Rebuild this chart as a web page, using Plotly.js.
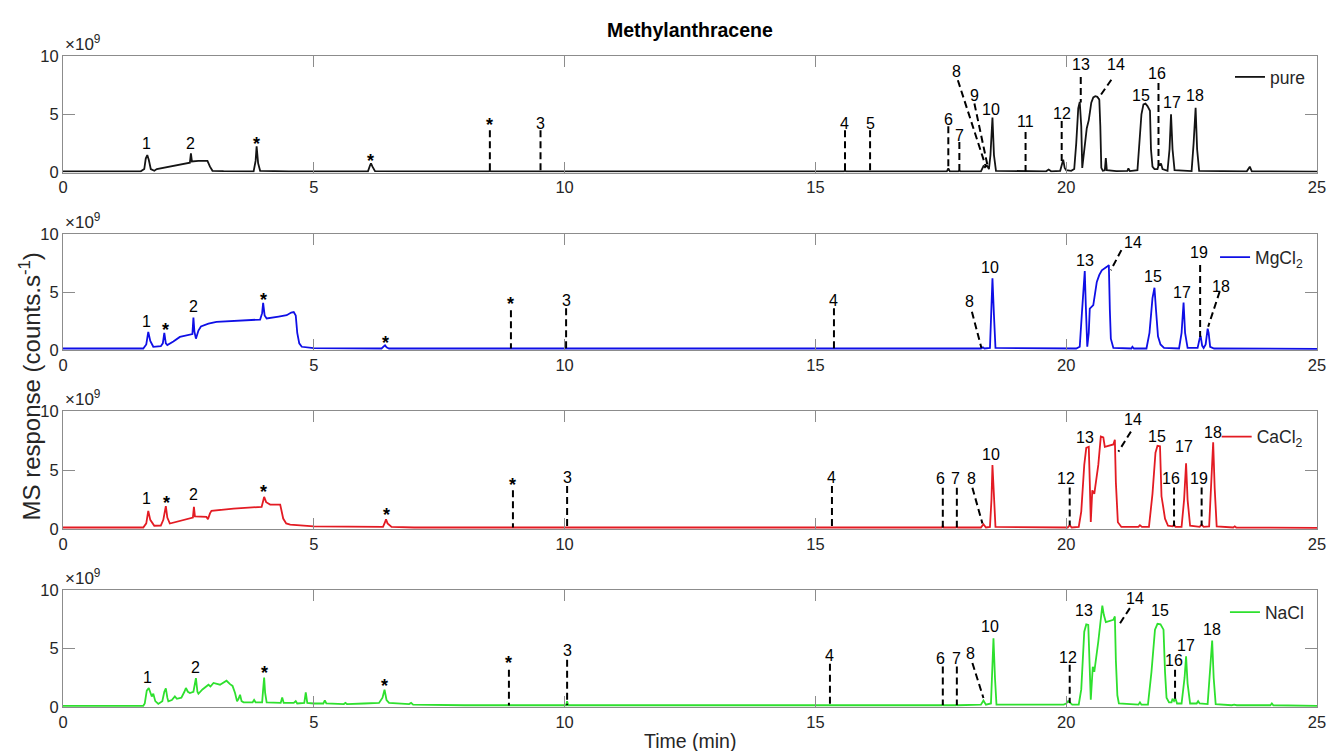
<!DOCTYPE html>
<html>
<head>
<meta charset="utf-8">
<script src="https://cdn.plot.ly/plotly-3.0.1.min.js"></script>
<style>html,body{margin:0;padding:0;background:#fff}#chart{width:1330px;height:751px}</style>
</head>
<body>
<div id="chart"></div>
<script>
// ---------------- data (response in units of 1e9 counts/s, time in min) ----------------
const seriesNames = ['pure', 'MgCl<sub>2</sub>', 'CaCl<sub>2</sub>', 'NaCl'];

const purePoints = [[0,0.1],[1.55,0.1],[1.62,0.3],[1.65,1.2],[1.68,1.5],[1.71,1.1],[1.75,0.3],[1.82,0.15],[1.87,0.3],[2.1,0.5],[2.3,0.65],[2.5,0.8],[2.53,0.85],[2.55,1.65],[2.57,0.95],[2.7,1.0],[2.88,1.0],[2.93,0.5],[2.98,0.15],[3.2,0.12],[3.8,0.1],[3.84,1.0],[3.86,2.25],[3.89,0.8],[3.93,0.15],[4.5,0.1],[6.08,0.1],[6.12,0.6],[6.14,0.78],[6.17,0.5],[6.22,0.12],[8.49,0.1],[8.51,0.15],[8.53,0.1],[9.5,0.1],[9.52,0.15],[9.54,0.1],[11.2,0.1],[11.25,0.15],[11.3,0.1],[15.57,0.1],[15.59,0.18],[15.61,0.1],[17.62,0.1],[17.65,0.35],[17.68,0.1],[17.85,0.1],[17.87,0.18],[17.89,0.1],[18.3,0.1],[18.35,0.55],[18.38,0.45],[18.42,0.6],[18.46,0.3],[18.49,1.5],[18.53,4.72],[18.56,1.5],[18.6,0.15],[19.6,0.1],[19.65,0.25],[19.7,0.1],[19.88,0.15],[19.91,0.6],[19.94,1.1],[19.97,0.4],[20.0,0.2],[20.1,0.15],[20.16,0.3],[20.2,2.5],[20.24,5.5],[20.27,6.05],[20.3,4.0],[20.32,0.4],[20.36,2.0],[20.41,3.8],[20.45,4.5],[20.5,6.0],[20.54,6.45],[20.58,6.55],[20.62,6.5],[20.66,6.25],[20.68,4.0],[20.7,0.4],[20.73,0.15],[20.77,0.2],[20.79,1.25],[20.81,0.2],[21.0,0.12],[21.22,0.15],[21.24,0.35],[21.27,0.12],[21.42,0.2],[21.46,2.5],[21.5,5.0],[21.54,5.85],[21.58,5.92],[21.62,5.7],[21.65,5.45],[21.67,5.3],[21.69,2.0],[21.72,0.5],[21.76,0.3],[21.82,0.3],[21.85,0.75],[21.87,0.6],[21.89,0.78],[21.92,0.3],[22.02,0.15],[22.06,2.0],[22.09,5.0],[22.12,2.0],[22.16,0.2],[22.5,0.12],[22.54,2.5],[22.58,5.55],[22.61,2.0],[22.65,0.15],[23.6,0.1],[23.66,0.5],[23.7,0.1],[25,0.08]];

const mgcl2Points = [[0,0.15],[1.6,0.15],[1.66,0.5],[1.70,1.58],[1.74,0.8],[1.8,0.3],[1.95,0.35],[1.99,0.6],[2.02,1.5],[2.05,0.6],[2.08,0.45],[2.2,0.75],[2.33,1.15],[2.5,1.3],[2.58,1.4],[2.6,2.83],[2.62,1.6],[2.65,1.0],[2.7,1.7],[2.75,2.05],[2.9,2.3],[3.06,2.45],[3.5,2.55],[3.93,2.65],[3.97,3.2],[3.99,4.09],[4.02,3.0],[4.06,2.74],[4.3,2.9],[4.46,3.02],[4.55,3.25],[4.6,3.3],[4.64,3.0],[4.67,1.5],[4.71,0.6],[4.76,0.3],[5.0,0.18],[6.35,0.15],[6.4,0.35],[6.42,0.43],[6.45,0.25],[6.5,0.15],[8.92,0.15],[8.93,0.2],[8.95,0.15],[18.3,0.15],[18.34,0.25],[18.37,0.15],[18.48,0.2],[18.51,3.0],[18.53,6.2],[18.56,3.0],[18.59,0.2],[20.2,0.15],[20.27,0.3],[20.31,3.0],[20.37,6.83],[20.39,4.0],[20.42,0.3],[20.45,1.5],[20.47,3.6],[20.54,3.9],[20.58,5.0],[20.61,5.9],[20.66,6.5],[20.71,6.9],[20.81,7.2],[20.85,7.35],[20.87,3.5],[20.89,1.0],[20.94,0.2],[21.3,0.15],[21.32,0.3],[21.35,0.15],[21.6,0.15],[21.66,1.5],[21.72,4.5],[21.76,5.39],[21.79,3.5],[21.83,1.2],[21.88,0.5],[21.95,0.2],[22.25,0.15],[22.3,1.5],[22.34,4.12],[22.37,1.5],[22.42,0.2],[22.62,0.2],[22.66,1.0],[22.68,1.24],[22.71,0.4],[22.74,0.2],[22.78,0.5],[22.82,1.87],[22.84,1.5],[22.87,0.3],[22.95,0.15],[25,0.12]];

const cacl2Points = [[0,0.15],[1.6,0.15],[1.66,0.5],[1.70,1.56],[1.74,0.8],[1.82,0.3],[1.95,0.32],[2.0,0.8],[2.05,1.96],[2.08,1.0],[2.13,0.49],[2.3,0.7],[2.53,0.96],[2.59,1.0],[2.61,1.9],[2.63,1.1],[2.86,1.05],[2.89,0.85],[2.93,1.35],[2.96,1.56],[3.4,1.76],[3.96,1.9],[3.99,2.4],[4.01,2.75],[4.05,2.3],[4.13,2.1],[4.33,2.1],[4.36,1.6],[4.39,0.91],[4.45,0.5],[4.53,0.4],[5.0,0.25],[6.38,0.2],[6.42,0.6],[6.44,0.85],[6.47,0.5],[6.55,0.2],[7.0,0.15],[17.52,0.15],[17.54,0.3],[17.56,0.15],[17.8,0.15],[17.82,0.25],[17.84,0.15],[18.3,0.15],[18.35,0.43],[18.4,0.15],[18.48,0.2],[18.51,2.5],[18.53,5.46],[18.56,2.5],[18.59,0.2],[20.03,0.15],[20.07,0.35],[20.11,0.15],[20.25,0.2],[20.3,1.5],[20.36,5.46],[20.4,6.9],[20.45,7.0],[20.47,4.0],[20.49,0.62],[20.52,3.3],[20.56,3.0],[20.64,5.46],[20.69,7.87],[20.74,7.8],[20.77,7.0],[20.94,7.2],[20.97,7.6],[20.99,4.0],[21.03,0.6],[21.1,0.2],[21.44,0.2],[21.47,0.35],[21.51,0.2],[21.65,0.2],[21.72,3.0],[21.78,6.5],[21.82,7.08],[21.87,7.05],[21.89,5.0],[21.9,2.8],[21.93,2.0],[21.97,0.9],[22.03,0.3],[22.12,0.25],[22.15,0.4],[22.18,0.2],[22.3,0.2],[22.35,2.5],[22.39,5.6],[22.42,2.5],[22.47,0.3],[22.66,0.2],[22.7,0.4],[22.74,0.2],[22.85,0.25],[22.89,3.5],[22.93,7.39],[22.96,3.5],[23.0,0.25],[23.33,0.15],[23.36,0.25],[23.39,0.15],[25,0.12]];

const naclPoints = [[0,0.1],[1.6,0.1],[1.63,0.3],[1.67,1.4],[1.71,1.62],[1.74,1.2],[1.77,0.9],[1.80,1.13],[1.84,0.5],[1.90,0.26],[1.98,0.5],[2.02,1.3],[2.05,1.59],[2.08,0.8],[2.1,0.48],[2.17,0.6],[2.23,0.9],[2.27,0.7],[2.36,0.8],[2.42,1.3],[2.45,1.62],[2.49,1.3],[2.53,1.19],[2.6,1.3],[2.65,2.47],[2.68,1.3],[2.7,1.13],[2.78,1.5],[2.86,1.76],[2.9,1.9],[2.94,1.75],[3.0,2.05],[3.13,1.9],[3.26,2.24],[3.33,1.95],[3.38,1.8],[3.43,1.19],[3.47,0.48],[3.5,0.7],[3.53,1.05],[3.56,0.5],[3.6,0.4],[3.78,0.4],[3.81,0.6],[3.84,0.4],[3.97,0.4],[3.99,1.5],[4.01,2.52],[4.03,1.2],[4.06,0.4],[4.34,0.35],[4.37,0.82],[4.4,0.35],[4.6,0.35],[4.64,0.5],[4.67,0.3],[4.81,0.35],[4.84,1.25],[4.87,0.35],[5.0,0.3],[5.19,0.3],[5.22,0.56],[5.25,0.3],[5.6,0.25],[5.63,0.35],[5.66,0.25],[6.0,0.3],[6.3,0.35],[6.37,0.8],[6.41,1.47],[6.45,0.6],[6.5,0.35],[6.9,0.25],[6.94,0.35],[6.98,0.2],[8.0,0.15],[10.03,0.15],[10.05,0.5],[10.07,0.15],[17.52,0.15],[17.54,0.25],[17.56,0.15],[17.8,0.15],[17.82,0.25],[17.84,0.15],[18.3,0.2],[18.35,0.55],[18.4,0.2],[18.5,0.3],[18.52,2.5],[18.55,5.86],[18.58,2.5],[18.61,0.2],[19.95,0.2],[20.0,0.3],[20.04,0.5],[20.07,0.4],[20.12,0.2],[20.25,0.2],[20.3,1.5],[20.36,6.43],[20.4,7.05],[20.44,7.0],[20.46,4.0],[20.49,0.62],[20.53,3.44],[20.56,3.0],[20.64,5.59],[20.72,8.66],[20.75,7.87],[20.79,7.25],[20.94,7.44],[20.97,7.73],[20.99,4.0],[21.02,1.0],[21.05,0.3],[21.44,0.2],[21.47,0.4],[21.5,0.2],[21.63,0.2],[21.7,3.0],[21.77,6.6],[21.82,7.1],[21.88,7.05],[21.91,6.8],[21.94,6.6],[21.97,3.0],[22.0,0.8],[22.05,0.4],[22.1,0.4],[22.12,0.7],[22.15,0.5],[22.18,0.7],[22.21,0.3],[22.3,0.3],[22.36,2.5],[22.39,4.32],[22.42,2.0],[22.47,0.3],[22.6,0.3],[22.63,0.5],[22.66,0.3],[22.82,0.25],[22.87,3.0],[22.91,5.68],[22.94,2.5],[22.98,0.25],[23.3,0.15],[23.35,0.2],[23.4,0.15],[24.07,0.15],[24.1,0.3],[24.13,0.15],[25,0.1]];

// peak labels (text, time, response)
const pureMarkText = ['1','2','*','*','*','3','4','5','6','7','8','9','10','11','12','13','14','15','16','17','18'];
const pureMarkX = [1.67,2.55,3.86,6.14,8.51,9.52,15.59,16.09,17.65,17.87,17.82,18.17,18.51,19.19,19.91,20.29,20.99,21.50,21.82,22.11,22.57];
const pureMarkY = [2.49,2.51,2.49,1.0,4.06,4.2,4.2,4.2,4.55,3.2,8.69,6.59,5.39,4.37,5.1,9.23,9.23,6.63,8.46,6.01,6.59];
const pureDashX0 = [8.51,9.52,15.59,16.09,17.65,17.87,17.84,18.17,19.19,19.91,20.29,20.90,21.84];
const pureDashY0 = [3.62,3.62,3.62,3.62,3.97,2.62,7.92,5.92,3.48,4.43,8.2,7.96,7.68];
const pureDashX1 = [8.51,9.52,15.59,16.09,17.65,17.87,18.40,18.43,19.19,19.91,20.29,20.64,21.84];
const pureDashY1 = [0.12,0.12,0.12,0.12,0.15,0.15,0.48,0.63,0.1,1.0,6.0,6.35,0.6];

const mgMarkText = ['1','*','2','*','*','*','3','4','8','10','13','14','15','17','19','18'];
const mgMarkX = [1.67,2.05,2.6,3.99,6.42,8.93,10.03,15.37,18.08,18.49,20.38,21.34,21.74,22.30,22.65,23.09];
const mgMarkY = [2.52,1.73,3.78,4.32,0.66,4.0,4.28,4.28,4.22,7.16,7.74,9.27,6.37,5.01,8.4,5.5];
const mgDashX0 = [8.93,10.03,15.37,18.12,21.10,22.67,23.06];
const mgDashY0 = [3.46,3.63,3.63,3.32,8.64,7.35,5.07];
const mgDashX1 = [8.93,10.03,15.37,18.31,20.89,22.67,22.83];
const mgDashY1 = [0.15,0.15,0.15,0.2,6.91,1.15,2.03];

const caMarkText = ['1','*','2','*','*','*','3','4','6','7','8','10','12','13','14','15','16','17','19','18'];
const caMarkX = [1.67,2.07,2.6,3.99,6.44,8.97,10.05,15.33,17.50,17.80,18.12,18.51,19.99,20.38,21.34,21.82,22.08,22.35,22.65,22.92];
const caMarkY = [2.64,2.19,2.92,3.13,1.19,3.78,4.39,4.39,4.32,4.32,4.32,6.35,4.32,7.83,9.33,7.91,4.32,7.02,4.32,8.23];
const caDashX0 = [8.97,10.05,15.33,17.54,17.82,18.13,20.07,21.29,22.15,22.70];
const caDashY0 = [3.32,3.67,3.67,3.52,3.52,3.52,3.55,8.29,3.55,3.55];
const caDashX1 = [8.97,10.05,15.33,17.54,17.82,18.33,20.07,21.04,22.15,22.70];
const caDashY1 = [0.15,0.15,0.15,0.15,0.15,0.49,0.34,6.59,0.25,0.3];

const naMarkText = ['1','2','*','*','*','3','4','6','7','8','10','12','13','14','15','16','17','18'];
const naMarkX = [1.69,2.65,4.01,6.40,8.89,10.05,15.29,17.50,17.82,18.10,18.49,20.04,20.36,21.37,21.86,22.14,22.39,22.90];
const naMarkY = [2.5,3.37,2.9,1.76,3.72,4.84,4.37,4.1,4.1,4.56,6.83,4.22,8.23,9.29,8.23,3.93,5.29,6.63];
const naDashX0 = [8.89,10.05,15.29,17.54,17.82,18.13,20.07,21.27,22.17];
const naDashY0 = [3.18,4.03,3.69,3.46,3.46,3.75,3.61,8.44,3.18];
const naDashX1 = [8.89,10.05,15.29,17.54,17.82,18.35,20.07,21.04,22.17];
const naDashY1 = [0.12,0.15,0.12,0.15,0.15,0.77,0.34,6.93,0.71];

const xTicks = [0,5,10,15,20,25];
const yTicks = [0,5,10];

// ---------------- build ----------------
const FONT = 'Liberation Sans, Arial, sans-serif';
const colors = ['#141414', '#0f0fe6', '#e31b23', '#2ee02e'];
const pointSets = [purePoints, mgcl2Points, cacl2Points, naclPoints];
const markSets = [
  [pureMarkText, pureMarkX, pureMarkY], [mgMarkText, mgMarkX, mgMarkY],
  [caMarkText, caMarkX, caMarkY], [naMarkText, naMarkX, naMarkY]];
const dashSets = [
  [pureDashX0, pureDashY0, pureDashX1, pureDashY1], [mgDashX0, mgDashY0, mgDashX1, mgDashY1],
  [caDashX0, caDashY0, caDashX1, caDashY1], [naDashX0, naDashY0, naDashX1, naDashY1]];
const domains = [[0.821, 1], [0.548, 0.726], [0.273, 0.454], [0, 0.18]];
const legendY = [0.9677, 0.6908, 0.4152, 0.1455];
const legendX = [0.9306, 0.9187, 0.9200, 0.9266];
const sfx = ['', '2', '3', '4'];

const traces = [];
const layout = {
  width: 1330, height: 751,
  margin: {l: 63, r: 13, t: 56, b: 44},
  paper_bgcolor: '#fff', plot_bgcolor: '#fff',
  font: {family: FONT, size: 16, color: '#262626'},
  annotations: [], shapes: [], showlegend: true
};

for (let i = 0; i < 4; i++) {
  const xa = 'x' + sfx[i], ya = 'y' + sfx[i];
  const lg = 'legend' + sfx[i];
  traces.push({
    type: 'scatter', mode: 'lines',
    x: pointSets[i].map(p => p[0]), y: pointSets[i].map(p => p[1]),
    xaxis: xa, yaxis: ya, name: seriesNames[i], legend: lg,
    line: {color: colors[i], width: 1.8}, hoverinfo: 'skip'
  });
  layout['xaxis' + sfx[i]] = {
    domain: [0, 1], anchor: ya, range: [0, 25], tickvals: xTicks, ticktext: xTicks.map(String),
    ticks: 'inside', ticklen: 11, tickcolor: '#8c8c8c', tickwidth: 1,
    showline: true, linecolor: '#8c8c8c', linewidth: 1, mirror: 'ticks',
    showgrid: false, zeroline: false,
    tickfont: {family: FONT, size: 16.5, color: '#262626'}
  };
  layout['yaxis' + sfx[i]] = {
    domain: domains[i], anchor: xa, range: [0, 10], tickvals: yTicks, ticktext: yTicks.map(String),
    ticks: 'inside', ticklen: 12, tickcolor: '#8c8c8c', tickwidth: 1,
    showline: true, linecolor: '#8c8c8c', linewidth: 1, mirror: 'ticks',
    showgrid: false, zeroline: false,
    tickfont: {family: FONT, size: 16.5, color: '#262626'}
  };
  layout[lg] = {
    x: legendX[i], xanchor: 'left', y: legendY[i], yanchor: 'middle',
    bgcolor: 'rgba(0,0,0,0)', borderwidth: 0,
    font: {family: FONT, size: 17.5, color: '#262626'}
  };
  // x10^9 multiplier
  layout.annotations.push({
    xref: 'paper', yref: 'paper', x: 0, y: domains[i][1], xanchor: 'left', yanchor: 'bottom',
    text: '\u00d710<sup>9</sup>', showarrow: false, font: {family: FONT, size: 17, color: '#262626'}
  });
  // peak labels
  const [mt, mx, my] = markSets[i];
  for (let k = 0; k < mt.length; k++) {
    const star = mt[k] === '*';
    layout.annotations.push({
      xref: xa, yref: ya, x: mx[k], y: my[k], text: star ? '<b>*</b>' : mt[k],
      showarrow: false, xanchor: 'center', yanchor: 'middle',
      font: {family: FONT, size: star ? 18 : 16, color: '#000'}
    });
  }
  // dashed marker lines
  const [dx0, dy0, dx1, dy1] = dashSets[i];
  for (let k = 0; k < dx0.length; k++) {
    layout.shapes.push({
      type: 'line', xref: xa, yref: ya, x0: dx0[k], y0: dy0[k], x1: dx1[k], y1: dy1[k],
      line: {color: '#000', width: 2, dash: '7px,4px'}
    });
  }
}

layout.annotations.push({
  xref: 'paper', yref: 'paper', x: 0.5, y: 1.04, xanchor: 'center', yanchor: 'middle',
  text: '<b>Methylanthracene</b>', showarrow: false, font: {family: FONT, size: 19.5, color: '#000'}
});
layout.annotations.push({
  xref: 'paper', yref: 'paper', x: -0.0271, y: 0.4923, xanchor: 'center', yanchor: 'middle',
  textangle: -90, text: 'MS response (counts.s<sup>-1</sup>)', showarrow: false,
  font: {family: FONT, size: 24, color: '#262626'}
});
layout.annotations.push({
  xref: 'paper', yref: 'paper', x: 0.5, y: -0.0522, xanchor: 'center', yanchor: 'middle',
  text: 'Time (min)', showarrow: false, font: {family: FONT, size: 19.5, color: '#262626'}
});

Plotly.newPlot('chart', traces, layout, {displayModeBar: false, staticPlot: true});
</script>
</body>
</html>
